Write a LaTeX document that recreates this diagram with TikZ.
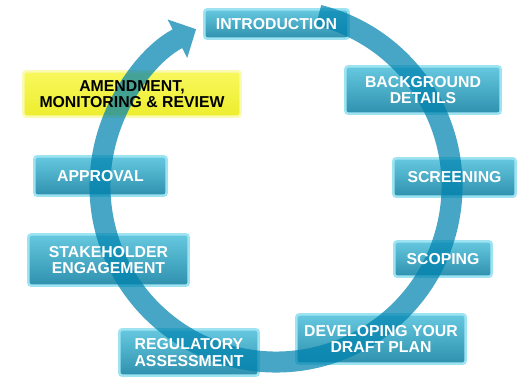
\documentclass[tikz,border=0pt]{standalone}
\usepackage{fontspec}
\setmainfont{Liberation Sans}
\usetikzlibrary{arrows.meta}
\pgfdeclarelayer{boxlayer}
\pgfdeclarelayer{ringlayer}
\pgfsetlayers{boxlayer,ringlayer,main}
\definecolor{boxtop}{HTML}{66C9E0}
\definecolor{boxbot}{HTML}{2E90AD}
\definecolor{boxglow}{HTML}{9EE3F2}
\definecolor{yeltop}{HTML}{F8F85E}
\definecolor{yelbot}{HTML}{EDED2E}
\definecolor{yelglow}{HTML}{FAFAB0}
\definecolor{ringcol}{HTML}{0082AF}
\tikzset{
  lbl/.style={inner sep=0pt, align=center, text=white,
    font=\fontsize{15.8}{16.5}\selectfont\bfseries},
  ylbl/.style={lbl, text=black},
  tealbox/.style={rounded corners=3pt, top color=boxtop, bottom color=boxbot,
    draw=boxglow, line width=2.5pt},
  yelbox/.style={rounded corners=3pt, top color=yeltop, bottom color=yelbot,
    draw=yelglow, line width=2.5pt},
  ring/.style={draw=ringcol, line width=21pt,
    -{Triangle[width=42pt,length=21pt,fill=ringcol]}}
}
\begin{document}
\begin{tikzpicture}[x=1pt,y=-1pt]
\useasboundingbox (0,0) rectangle (524,379);
\node[lbl, minimum width=144pt, minimum height=29pt] (intro) at (276.5,24) {INTRODUCTION};
\node[lbl, minimum width=155pt, minimum height=47pt] (backg) at (423,90) {BACKGROUND\\DETAILS};
\node[lbl, minimum width=122pt, minimum height=38pt] (screen) at (454.5,177.5) {SCREENING};
\node[lbl, minimum width=97pt, minimum height=35pt] (scope) at (443,259) {SCOPING};
\node[lbl, minimum width=169pt, minimum height=49pt] (devel) at (381,339) {DEVELOPING YOUR\\DRAFT PLAN};
\node[lbl, minimum width=139pt, minimum height=46pt] (regul) at (189,352.5) {REGULATORY\\ASSESSMENT};
\node[lbl, minimum width=160pt, minimum height=51pt] (stake) at (108.5,260) {STAKEHOLDER\\ENGAGEMENT};
\node[lbl, minimum width=132pt, minimum height=39pt] (approv) at (100.5,176) {APPROVAL};
\node[ylbl, minimum width=217pt, minimum height=45pt] (amend) at (132,94) {AMENDMENT,\\MONITORING \& REVIEW};
\coordinate (ctr) at (276,186);
\begin{pgfonlayer}{boxlayer}
\foreach \n in {intro,backg,screen,scope,devel,regul,stake,approv}
  \draw[tealbox] (\n.south west) rectangle (\n.north east);
\draw[yelbox] (amend.south west) rectangle (amend.north east);
\end{pgfonlayer}
\begin{pgfonlayer}{ringlayer}
\begin{scope}[transparency group, opacity=0.72]
\draw[ring] (ctr) ++(76:176pt) arc[start angle=76, end angle=-243, radius=176pt];
\end{scope}
\end{pgfonlayer}
\end{tikzpicture}
\end{document}
